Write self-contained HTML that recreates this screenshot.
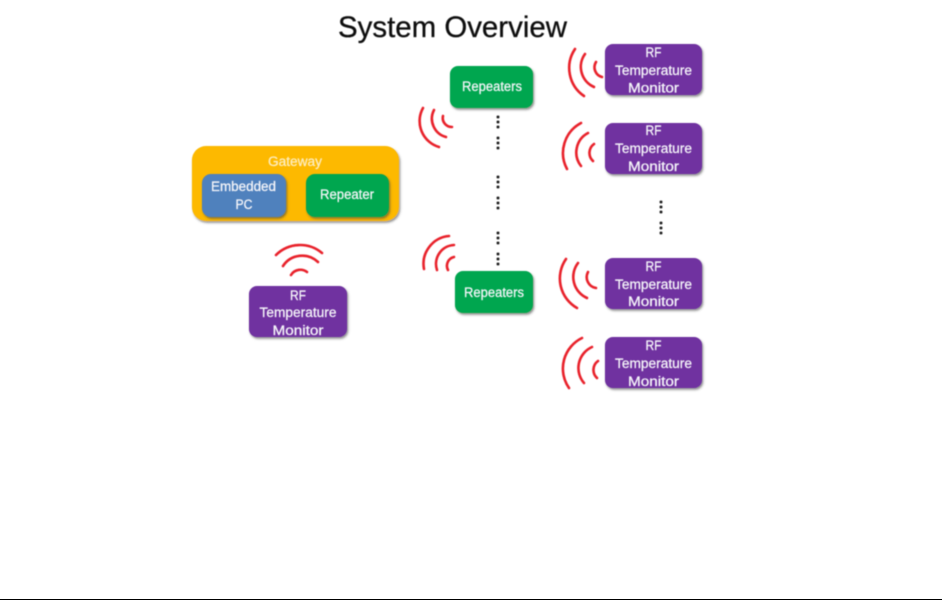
<!DOCTYPE html>
<html><head><meta charset="utf-8"><style>
html,body{margin:0;padding:0;background:#fff;width:942px;height:600px;overflow:hidden}
svg{display:block}
text{font-family:"Liberation Sans",sans-serif}
.w{fill:#f6f6fa;font-size:13.5px;text-anchor:middle;stroke:#f6f6fa;stroke-width:.25}
.a path{fill:none;stroke:#e8202c;stroke-width:2.6;stroke-linecap:round}
.d circle{fill:#222}
</style></head><body>
<svg width="942" height="600" viewBox="0 0 942 600" xmlns="http://www.w3.org/2000/svg">
<defs>
<filter id="s" x="-10%" y="-15%" width="125%" height="135%"><feGaussianBlur in="SourceGraphic" stdDeviation="0.4" result="b"/><feDropShadow in="b" dx="1.200" dy="1.800" stdDeviation="1" flood-color="#444" flood-opacity="0.6"/></filter>
<filter id="b" x="-5%" y="-5%" width="110%" height="110%"><feGaussianBlur stdDeviation="0.4"/></filter>
</defs>
<rect width="942" height="600" fill="#fff"/>
<rect x="0" y="599" width="942" height="1" fill="#000"/>
<g filter="url(#b)">
<text x="338" y="37" font-size="30" fill="#111" stroke="#111" stroke-width=".3" textLength="229" lengthAdjust="spacingAndGlyphs">System Overview</text>
</g>
<rect x="192" y="146" width="207" height="75" rx="14" fill="#fdb900" filter="url(#s)"/>
<rect x="202" y="174" width="84" height="43" rx="9" fill="#4f81bd" filter="url(#s)"/>
<rect x="306" y="174" width="83" height="43" rx="9" fill="#05a650" filter="url(#s)"/>
<rect x="249" y="286" width="98" height="51" rx="8" fill="#7030a0" filter="url(#s)"/>
<rect x="450" y="66" width="83" height="42" rx="8" fill="#05a650" filter="url(#s)"/>
<rect x="455" y="271" width="78" height="42" rx="8" fill="#05a650" filter="url(#s)"/>
<rect x="605" y="44" width="97" height="51" rx="8" fill="#7030a0" filter="url(#s)"/>
<rect x="605" y="123" width="97" height="51" rx="8" fill="#7030a0" filter="url(#s)"/>
<rect x="605" y="258" width="97" height="51" rx="8" fill="#7030a0" filter="url(#s)"/>
<rect x="605" y="337" width="97" height="51" rx="8" fill="#7030a0" filter="url(#s)"/>
<g filter="url(#b)">
<text class="w" x="295" y="166" style="fill:#fdedc0;stroke:#fdedc0" textLength="54" lengthAdjust="spacingAndGlyphs">Gateway</text>
<text class="w" x="243.500" y="191" textLength="65" lengthAdjust="spacingAndGlyphs">Embedded</text>
<text class="w" x="244" y="209" textLength="17" lengthAdjust="spacingAndGlyphs">PC</text>
<text class="w" x="347" y="199" textLength="54" lengthAdjust="spacingAndGlyphs">Repeater</text>
<text class="w" x="298" y="300" textLength="16" lengthAdjust="spacingAndGlyphs">RF</text>
<text class="w" x="298" y="317" textLength="77" lengthAdjust="spacingAndGlyphs">Temperature</text>
<text class="w" x="298" y="335" textLength="51" lengthAdjust="spacingAndGlyphs">Monitor</text>
<text class="w" x="492" y="91" textLength="60" lengthAdjust="spacingAndGlyphs">Repeaters</text>
<text class="w" x="494" y="297" textLength="60" lengthAdjust="spacingAndGlyphs">Repeaters</text>
<text class="w" x="653.500" y="57" textLength="16" lengthAdjust="spacingAndGlyphs">RF</text>
<text class="w" x="653.500" y="75" textLength="77" lengthAdjust="spacingAndGlyphs">Temperature</text>
<text class="w" x="653.500" y="92.500" textLength="51" lengthAdjust="spacingAndGlyphs">Monitor</text>
<text class="w" x="653.500" y="135" textLength="16" lengthAdjust="spacingAndGlyphs">RF</text>
<text class="w" x="653.500" y="153" textLength="77" lengthAdjust="spacingAndGlyphs">Temperature</text>
<text class="w" x="653.500" y="171" textLength="51" lengthAdjust="spacingAndGlyphs">Monitor</text>
<text class="w" x="653.500" y="271" textLength="16" lengthAdjust="spacingAndGlyphs">RF</text>
<text class="w" x="653.500" y="289" textLength="77" lengthAdjust="spacingAndGlyphs">Temperature</text>
<text class="w" x="653.500" y="306" textLength="51" lengthAdjust="spacingAndGlyphs">Monitor</text>
<text class="w" x="653.500" y="350" textLength="16" lengthAdjust="spacingAndGlyphs">RF</text>
<text class="w" x="653.500" y="368" textLength="77" lengthAdjust="spacingAndGlyphs">Temperature</text>
<text class="w" x="653.500" y="386" textLength="51" lengthAdjust="spacingAndGlyphs">Monitor</text>
<g class="a">
<path d="M276 255A34 34 0 0 1 322 253M283 266A23 23 0 0 1 318 262M291 275A11 11 0 0 1 307 272"/>
<path d="M575 49A34 34 0 0 0 584 96M585 54A22 22 0 0 0 594 87M596 62A10 10 0 0 0 602 77"/>
<path d="M581 123A34 34 0 0 0 567 169M588 133A22 22 0 0 0 581 166M594 144A11 11 0 0 0 593 161"/>
<path d="M566 259A34 34 0 0 0 577 308M578 263A23 23 0 0 0 587 298M588 272A11 11 0 0 0 596 288"/>
<path d="M582 338A34 34 0 0 0 569 388M592 347A23 23 0 0 0 584 383M598 361A11 11 0 0 0 597 378"/>
<path d="M423 108A27 27 0 0 0 439 147M434 110A19 19 0 0 0 446 137M443 116A9 9 0 0 0 452 127"/>
<path d="M449 236A28 28 0 0 0 424 269M454 245A19 19 0 0 0 437 270M454 257A9 9 0 0 0 448 270"/>
</g>
<g class="d">
<circle cx="498" cy="117" r="1.500"/><circle cx="498" cy="122" r="1.500"/><circle cx="498" cy="127" r="1.500"/>
<circle cx="498" cy="138" r="1.500"/><circle cx="498" cy="143" r="1.500"/><circle cx="498" cy="148" r="1.500"/>
<circle cx="498" cy="177" r="1.500"/><circle cx="498" cy="182" r="1.500"/><circle cx="498" cy="187" r="1.500"/>
<circle cx="498" cy="198" r="1.500"/><circle cx="498" cy="203" r="1.500"/><circle cx="498" cy="208" r="1.500"/>
<circle cx="498" cy="233" r="1.500"/><circle cx="498" cy="238" r="1.500"/><circle cx="498" cy="243" r="1.500"/>
<circle cx="498" cy="254" r="1.500"/><circle cx="498" cy="259" r="1.500"/><circle cx="498" cy="264" r="1.500"/>
<circle cx="661" cy="202" r="1.500"/><circle cx="661" cy="207" r="1.500"/><circle cx="661" cy="212" r="1.500"/>
<circle cx="661" cy="223" r="1.500"/><circle cx="661" cy="228" r="1.500"/><circle cx="661" cy="233" r="1.500"/>
</g>
</g>
</svg>
</body></html>
